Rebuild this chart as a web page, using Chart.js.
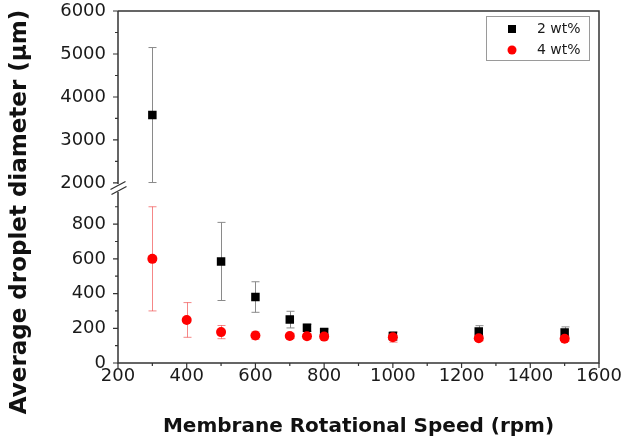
<!DOCTYPE html>
<html>
<head>
<meta charset="utf-8">
<script src="https://cdn.jsdelivr.net/npm/chart.js@4/dist/chart.umd.min.js"></script>
<style>
html,body{margin:0;padding:0;background:#fff;}
#wrap{width:630px;height:445px;}
</style>
</head>
<body>
<div id="wrap"><canvas id="c" width="630" height="445"></canvas></div>
<script>
// ---- data ----
const seriesLabels = ['2 wt%', '4 wt%'];
const speeds2 = [300, 500, 600, 700, 750, 800, 1000, 1250, 1500];
const diam2   = [3580, 585, 380, 250, 203, 178, 155, 182, 176];
const err2    = [1570, 225, 88, 48, 20, 18, 25, 33, 32];
const speeds4 = [300, 400, 500, 600, 700, 750, 800, 1000, 1250, 1500];
const diam4   = [600, 248, 178, 158, 156, 154, 152, 148, 143, 140];
const err4    = [300, 100, 38, 22, 15, 15, 15, 28, 15, 15];

const xTicks = [200, 400, 600, 800, 1000, 1200, 1400, 1600];
const xMinorTicks = [300, 500, 700, 900, 1100, 1300, 1500];
const yLowerTicks = [0, 200, 400, 600, 800];
const yLowerMinor = [100, 300, 500, 700, 900];
const yUpperTicks = [2000, 3000, 4000, 5000, 6000];
const yUpperMinor = [2500, 3500, 4500, 5500];
const xTitle = 'Membrane Rotational Speed (rpm)';
const yTitle = 'Average droplet diameter (\u00B5m)';

const BREAK_LOW = 1000;   // top of lower segment
const BREAK_HIGH = 1850;  // bottom of upper segment

function pts(xs, ys, es, upper) {
  return xs.map((x, i) => ({x: x, y: ys[i], err: es[i]}))
           .filter(p => upper ? p.y > BREAK_LOW : p.y <= BREAK_LOW);
}

const FONT = 'DejaVu Sans';
const AX = '#333333';

function mk(label, xs, ys, es, upper, style) {
  return Object.assign({
    label: label,
    data: pts(xs, ys, es, upper),
    yAxisID: upper ? 'y2' : 'y',
    showLine: false,
    borderWidth: 0
  }, style);
}
const blackStyle = {pointStyle: 'rect', pointRadius: 6, pointHoverRadius: 6, backgroundColor: '#000', borderColor: '#000', order: 2, errColor: '#8a8a8a'};
const redStyle = {pointStyle: 'circle', pointRadius: 5, pointHoverRadius: 5, backgroundColor: '#ff0000', borderColor: '#ff0000', order: 1, errColor: 'rgba(240,70,70,0.65)'};

const datasets = [
  mk(seriesLabels[0], speeds2, diam2, err2, false, blackStyle),
  mk(seriesLabels[0], speeds2, diam2, err2, true, blackStyle),
  mk(seriesLabels[1], speeds4, diam4, err4, false, redStyle),
  mk(seriesLabels[1], speeds4, diam4, err4, true, redStyle)
];

function fixTicks(list) {
  return function (axis) { axis.ticks = list.map(v => ({value: v})); };
}
const plain = v => String(v);
function fitY(s) { s.width = 118; s.paddingTop = 0; s.paddingBottom = 0; }

const decor = {
  id: 'decor',
  beforeDatasetsDraw(chart) {
    const ctx = chart.ctx;
    chart.data.datasets.forEach((ds, di) => {
      const meta = chart.getDatasetMeta(di);
      const ys = chart.scales[ds.yAxisID];
      ctx.save();
      ctx.strokeStyle = ds.errColor;
      ctx.lineWidth = 1;
      meta.data.forEach((el, i) => {
        const p = ds.data[i];
        const x = Math.round(el.x) + 0.5;
        const yt = ys.getPixelForValue(p.y + p.err);
        const yb = ys.getPixelForValue(p.y - p.err);
        ctx.beginPath();
        ctx.moveTo(x, yt); ctx.lineTo(x, yb);
        ctx.moveTo(x - 4, yt); ctx.lineTo(x + 4, yt);
        ctx.moveTo(x - 4, yb); ctx.lineTo(x + 4, yb);
        ctx.stroke();
      });
      ctx.restore();
    });
  },
  afterDraw(chart) {
    const ctx = chart.ctx;
    const ca = chart.chartArea;
    const sx = chart.scales.x, yl = chart.scales.y, yu = chart.scales.y2;
    const L = ca.left, R = ca.right, T = ca.top, B = ca.bottom;
    ctx.save();
    ctx.strokeStyle = AX;
    ctx.lineWidth = 1.5;
    const gapTop = yu.getPixelForValue(2000) + 1;
    const gapBot = yl.getPixelForValue(985);
    ctx.beginPath();
    ctx.moveTo(L, T); ctx.lineTo(R, T); ctx.lineTo(R, B); ctx.lineTo(L - 0.75, B);
    ctx.moveTo(L, T); ctx.lineTo(L, gapTop);
    ctx.moveTo(L, gapBot); ctx.lineTo(L, B);
    ctx.stroke();
    ctx.lineWidth = 1.2;
    ctx.beginPath();
    xTicks.forEach(v => { const x = sx.getPixelForValue(v); ctx.moveTo(x, B); ctx.lineTo(x, B + 5); });
    xMinorTicks.forEach(v => { const x = sx.getPixelForValue(v); ctx.moveTo(x, B); ctx.lineTo(x, B + 3); });
    yLowerTicks.forEach(v => { const y = yl.getPixelForValue(v); ctx.moveTo(L, y); ctx.lineTo(L - 5, y); });
    yLowerMinor.forEach(v => { const y = yl.getPixelForValue(v); ctx.moveTo(L, y); ctx.lineTo(L - 3, y); });
    yUpperTicks.forEach(v => { const y = yu.getPixelForValue(v); ctx.moveTo(L, y); ctx.lineTo(L - 5, y); });
    yUpperMinor.forEach(v => { const y = yu.getPixelForValue(v); ctx.moveTo(L, y); ctx.lineTo(L - 3, y); });
    ctx.stroke();
    const c = (gapTop + gapBot) / 2;
    ctx.lineWidth = 1.3;
    ctx.beginPath();
    ctx.moveTo(L - 7.5, c + 1.5); ctx.lineTo(L + 7.5, c - 6.5);
    ctx.moveTo(L - 6.5, c + 6.5); ctx.lineTo(L + 8.5, c - 1.5);
    ctx.stroke();
    const lw = 103, lh = 44;
    const lx = R - 113, ly = T + 5;
    ctx.strokeStyle = '#9a9a9a';
    ctx.lineWidth = 1;
    ctx.strokeRect(lx + 0.5, ly + 0.5, lw, lh);
    ctx.font = '14px "' + FONT + '"';
    ctx.textBaseline = 'middle';
    ctx.textAlign = 'left';
    const styles = [blackStyle, redStyle];
    seriesLabels.forEach((lab, i) => {
      const my = ly + 13 + i * 21, mx = lx + 26;
      const st = styles[i];
      ctx.fillStyle = st.backgroundColor;
      ctx.beginPath();
      if (st.pointStyle === 'rect') ctx.rect(mx - 4, my - 4, 8, 8);
      else ctx.arc(mx, my, 4.5, 0, Math.PI * 2);
      ctx.fill();
      ctx.fillStyle = '#1a1a1a';
      ctx.fillText(lab, lx + 51, my + 0.5);
    });
    ctx.translate(20, 212);
    ctx.rotate(-Math.PI / 2);
    ctx.font = 'bold 23px "' + FONT + '"';
    ctx.textAlign = 'center';
    ctx.fillStyle = '#111';
    ctx.fillText(yTitle, 0, 0);
    ctx.restore();
  }
};

const tickFont = {family: FONT, size: 18};
new Chart(document.getElementById('c'), {
  type: 'scatter',
  data: {datasets: datasets},
  options: {
    responsive: false,
    animation: false,
    devicePixelRatio: 1,
    layout: {padding: {left: 0, right: 31, top: 11, bottom: 0}},
    plugins: {legend: {display: false}, tooltip: {enabled: false}},
    scales: {
      x: {
        type: 'linear', min: 200, max: 1600,
        afterBuildTicks: fixTicks(xTicks),
        grid: {display: false, drawTicks: false},
        border: {display: false},
        ticks: {padding: 3, font: tickFont, color: '#1a1a1a', maxRotation: 0, autoSkip: false, callback: plain},
        title: {display: true, text: xTitle, color: '#111', font: {family: FONT, size: 20, weight: 'bold'}, padding: {top: 0, bottom: 6}},
        afterFit: s => { s.height = 82; }
      },
      y: {
        type: 'linear', position: 'left', stack: 'ybrk', stackWeight: 173.6,
        min: 0, max: BREAK_LOW,
        afterBuildTicks: fixTicks(yLowerTicks),
        grid: {display: false, drawTicks: false},
        border: {display: false},
        ticks: {padding: 12, font: tickFont, color: '#1a1a1a', callback: plain},
        afterFit: fitY
      },
      y2: {
        type: 'linear', position: 'left', stack: 'ybrk', stackWeight: 178.4,
        min: BREAK_HIGH, max: 6000,
        afterBuildTicks: fixTicks(yUpperTicks),
        grid: {display: false, drawTicks: false},
        border: {display: false},
        ticks: {padding: 12, font: tickFont, color: '#1a1a1a', callback: plain},
        afterFit: fitY
      }
    }
  },
  plugins: [decor]
});
</script>
</body>
</html>
